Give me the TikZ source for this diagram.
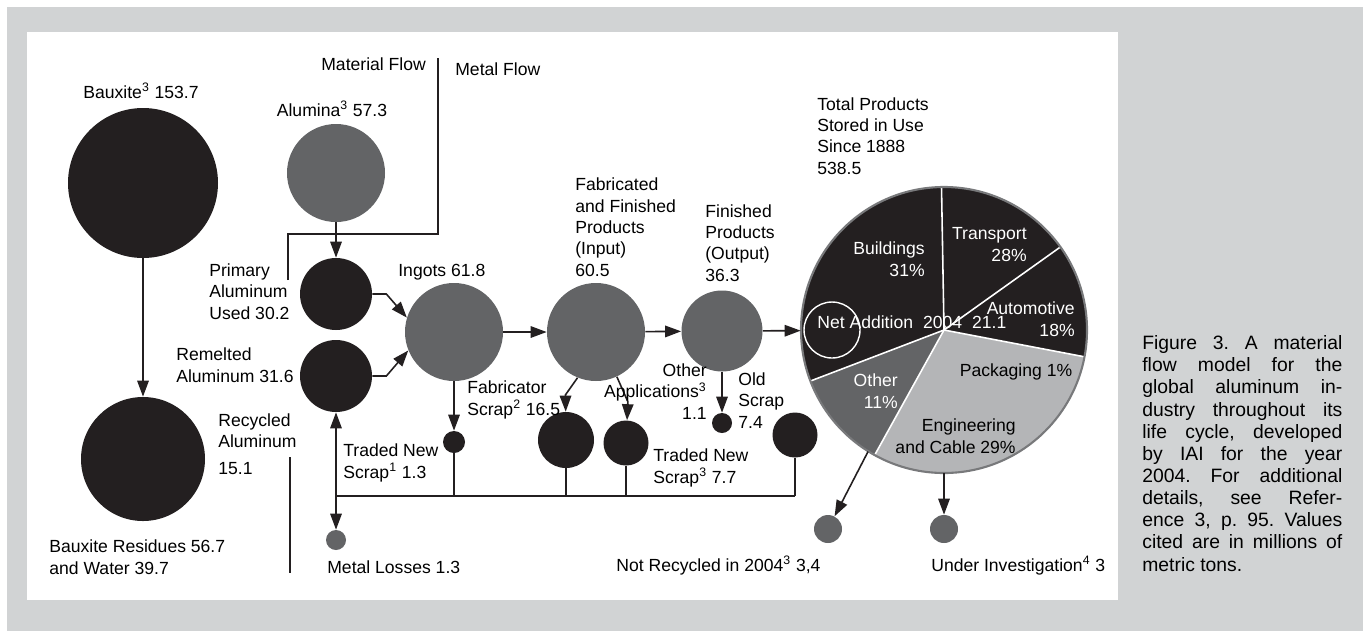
\documentclass[tikz,border=0pt]{standalone}
\usepackage{fontspec}
\setmainfont{Liberation Sans}
\usetikzlibrary{arrows.meta}
\definecolor{aluink}{RGB}{35,31,32}
\definecolor{alugrey}{RGB}{99,100,102}
\definecolor{alulight}{RGB}{180,181,183}
\definecolor{aluback}{RGB}{209,211,212}
\definecolor{aluedge}{RGB}{120,121,123}
\frenchspacing

\begin{document}
\begin{tikzpicture}[x=0.2mm,y=-0.2mm,
  >={Triangle[length=3.2mm,width=2.3mm]},
  inkdisc/.style={circle,inner sep=0pt,fill=aluink,minimum size=#1*0.4mm},
  greydisc/.style={circle,inner sep=0pt,fill=alugrey,minimum size=#1*0.4mm},
  lbl/.style={inner sep=0pt,align=left,font=\fontsize{10}{12.1}\selectfont},
  wlbl/.style={lbl,text=white},
  ar/.style={->,line width=0.9pt,aluink},
  wire/.style={line width=0.9pt,aluink},
  slice/.style={white,line width=0.9pt}
]
\useasboundingbox (0,0) rectangle (1363,631);
% FRAME: grey page, white panel
\fill[aluback] (7,7) rectangle (1363,631);
\fill[white] (27,32) rectangle (1118,600);

% LEFT: bauxite and its residues
\node[inkdisc=75] (baux) at (143,183) {};
\node[inkdisc=62] (resid) at (143,459) {};
\draw[ar] (baux) -- (resid);
\node[lbl,anchor=base] (bauxl) at (141,98) {Bauxite\textsuperscript{3} 153.7};
\node[lbl,anchor=base west] (residl) at (49,574) {Bauxite Residues 56.7\\and Water 39.7};

% material flow / metal flow divider
\draw[wire] (288,280) -- (288,234) -- (438,234) -- (438,58);
\draw[wire] (290,457) -- (290,573);
\node[lbl,anchor=base west] (matl) at (321,70) {Material Flow};
\node[lbl,anchor=base west] (metl) at (455,75) {Metal Flow};

% alumina, primary and remelted metal
\node[greydisc=49] (alum) at (336,173) {};
\node[inkdisc=36] (prim) at (336,294) {};
\node[inkdisc=36] (reml) at (336,376) {};
\draw[ar] (alum) -- (prim);
\node[lbl,anchor=base] (aluml) at (332,116) {Alumina\textsuperscript{3} 57.3};
\node[lbl,anchor=base west] (priml) at (209,319) {Primary\\Aluminum\\Used 30.2};
\node[lbl,anchor=base west] (remll) at (176,382) {Remelted\\Aluminum 31.6};
\node[lbl,anchor=base west] (recyl) at (218,474) {Recycled\\Aluminum\\[1mm]15.1};

% MIDDLE: ingots to finished products
\node[greydisc=49] (ingot) at (454,332) {};
\node[greydisc=49] (fab) at (596,332) {};
\node[greydisc=40.5] (fin) at (722,331) {};
\draw[ar] (prim.east) -- ++(14,0) -- (ingot.163);
\draw[ar] (reml.east) -- ++(14,0) -- (ingot.202);
\draw[ar] (ingot) -- (fab);
\draw[ar] (fab) -- (fin);
\node[lbl,anchor=base west] (ingotl) at (398,276) {Ingots 61.8};
\node[lbl,anchor=base west] (fabl) at (575,276) {Fabricated\\and Finished\\Products\\(Input)\\60.5};
\node[lbl,anchor=base west] (finl) at (705,281) {Finished\\Products\\(Output)\\36.3};

% scrap streams and the return line
\node[inkdisc=11] (fscr) at (454,442) {};
\node[inkdisc=28] (nscr) at (566,440) {};
\node[inkdisc=22.5] (tscr) at (626,443) {};
\node[inkdisc=10] (oapp) at (722,423) {};
\node[inkdisc=22.5] (olds) at (795,435) {};
\node[greydisc=10] (loss) at (336,540) {};
\coordinate (busl) at (336,496);
\coordinate (busr) at (795,496);
\draw[ar] (ingot) -- (fscr);
\draw[ar] (fab.248) -- ++(-12,17) -- (nscr);
\draw[ar] (fab.295) -- ++(11,25) -- (tscr);
\draw[ar] (fin) -- (oapp);
\draw[wire] (busl) -- (busr);
\draw[wire] (fscr) -- (fscr |- busl);
\draw[wire] (nscr) -- (nscr |- busl);
\draw[wire] (tscr) -- (tscr |- busl);
\draw[wire] (olds) -- (olds |- busr);
\draw[ar,<->] (reml) -- (loss);
\node[lbl,anchor=base west] (fscrl) at (467,415) {Fabricator\\Scrap\textsuperscript{2} 16.5};
\node[lbl,anchor=base west] (tscrl) at (653,483) {Traded New\\Scrap\textsuperscript{3} 7.7};
\node[lbl,anchor=base east,align=right] (oappl) at (707,419) {Other\\Applications\textsuperscript{3}\\1.1};
\node[lbl,anchor=base west] (oldsl) at (738,428) {Old\\Scrap\\7.4};
\node[lbl,anchor=base west] (tnsl) at (343,478) {Traded New\\Scrap\textsuperscript{1} 1.3};
\node[lbl,anchor=base west] (lossl) at (327,573) {Metal Losses 1.3};

% RIGHT: products in use
\node[inkdisc=143] (pie) at (944,330) {};
\fill[alugrey] (pie.center) -- ++(-200.9:143) arc[start angle=-200.9,end angle=-241,radius=143] -- cycle;
\fill[alulight] (pie.center) -- ++(-241:143) arc[start angle=-241,end angle=-349.2,radius=143] -- cycle;
\foreach \a in {-91,-35.5,10.8,-200.9,-241}
  \draw[slice] (pie.center) -- ++(\a:143);
\draw[aluedge,line width=1.2pt] (pie.center) circle[radius=143];
\node[circle,draw=white,line width=0.8pt,inner sep=0pt,minimum size=28*0.4mm] (netc) at (832,330) {};
\draw[ar] (fin) -- (pie);
\node[lbl,anchor=base west] (piel) at (817,174) {Total Products\\Stored in Use\\Since 1888\\538.5};
\node[wlbl,anchor=base east,align=right] (bldl) at (925,276) {Buildings\\31\%};
\node[wlbl,anchor=base east,align=right] (trnl) at (1027,261) {Transport\\28\%};
\node[wlbl,anchor=base east,align=right] (autl) at (1075,336) {Automotive\\18\%};
\node[wlbl,anchor=base west] (netl) at (817,328) {Net Addition\hspace{2mm}2004\hspace{2mm}21.1};
\node[lbl,anchor=base] (pckl) at (1016,376) {Packaging 1\%};
\node[lbl,anchor=base east,align=right] (engl) at (1016,453) {Engineering\\and Cable 29\%};
\node[wlbl,anchor=base east,align=right] (othl) at (898,408) {Other\\11\%};

% outflows from the stock
\node[greydisc=14] (nrec) at (828,529) {};
\node[greydisc=14] (uinv) at (944,529) {};
\draw[ar] (pie.238) -- (nrec);
\draw[ar] (pie) -- (uinv);
\node[lbl,anchor=base west] (nrecl) at (616,571) {Not Recycled in 2004\textsuperscript{3} 3,4};
\node[lbl,anchor=base west] (uinvl) at (931,571) {Under Investigation\textsuperscript{4} 3};

% caption
\node[lbl,anchor=base west,font=\fontsize{11}{12.6}\selectfont] (capt) at (1142,571) {%
\makebox[40mm][s]{Figure 3. A material}\\
\makebox[40mm][s]{flow model for the}\\
\makebox[40mm][s]{global aluminum in-}\\
\makebox[40mm][s]{dustry throughout its}\\
\makebox[40mm][s]{life cycle, developed}\\
\makebox[40mm][s]{by IAI for the year}\\
\makebox[40mm][s]{2004. For additional}\\
\makebox[40mm][s]{details, see Refer-}\\
\makebox[40mm][s]{ence 3, p. 95. Values}\\
\makebox[40mm][s]{cited are in millions of}\\
metric tons.};
\end{tikzpicture}
\end{document}
